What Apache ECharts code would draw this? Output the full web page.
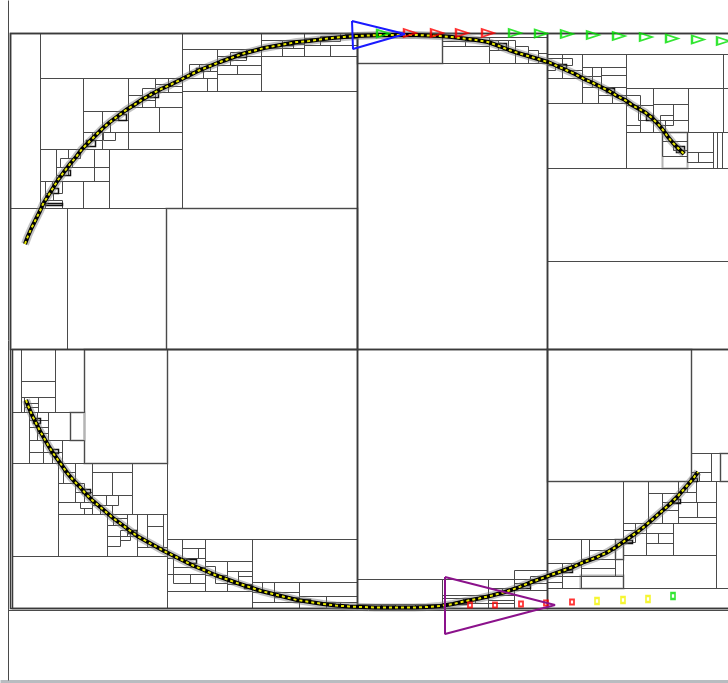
<!DOCTYPE html>
<html>
<head>
<meta charset="utf-8">
<script src="https://cdn.jsdelivr.net/npm/echarts@6/dist/echarts.min.js"></script>
<style>
  html, body { margin: 0; padding: 0; background: #fff; }
  #chart { width: 728px; height: 683px; }
</style>
</head>
<body>
<div id="chart"></div>
<script>
// cells are [x0, y0, x1, y1] in scene units (same scale as the picture)
const rootCells = [
  [10, 33, 740, 608],
  [10, 33, 357, 349], [357, 33, 547, 349], [547, 33, 740, 349],
  [12, 349, 357, 608], [357, 349, 547, 608], [547, 349, 740, 608]
]

const lightCells = [
  [166, 208, 357, 349], [84, 349, 167, 463], [70, 412, 84, 440],
  [357, 37, 442, 63], [547, 349, 691, 481], [720, 453, 740, 481],
  [615, 539, 623, 559], [580, 575, 623, 588], [662, 132, 687, 168]
]

const darkCells = [
  // top-left
  [10, 33, 357, 208], [10, 208, 67, 349], [67, 208, 166, 349],
  [10, 33, 40, 208], [40, 33, 182, 78], [40, 78, 83, 149],
  [83, 78, 128, 111], [83, 111, 128, 149], [128, 78, 182, 107],
  [128, 107, 182, 132], [128, 132, 182, 149],
  [83, 132, 102, 149], [102, 111, 128, 132], [102, 132, 128, 149],
  [103, 132, 115, 140], [110, 120, 128, 132], [92, 132, 102, 140],
  [128, 107, 159, 132],
  [128, 78, 155, 107], [155, 78, 182, 92], [155, 92, 182, 107],
  [128, 95, 142, 107], [142, 88, 155, 100], [155, 84, 168, 92],
  [168, 78, 182, 86], [142, 100, 155, 107],
  [40, 149, 56, 181], [56, 149, 94, 167], [94, 149, 109, 167],
  [56, 167, 94, 181], [94, 167, 109, 181], [40, 181, 83, 208],
  [83, 181, 109, 208], [109, 149, 182, 208],
  [56, 167, 68, 175], [60, 158, 72, 167], [68, 149, 80, 158],
  [40, 181, 45, 208], [45, 181, 52, 193], [52, 181, 62, 193],
  [45, 193, 53, 200], [45, 200, 62, 203], [45, 203, 62, 208],
  [182, 33, 357, 91], [182, 91, 357, 208],
  [182, 33, 261, 49], [182, 49, 217, 78], [182, 78, 207, 91],
  [207, 78, 217, 91], [189, 64, 217, 71], [199, 64, 210, 71],
  [189, 71, 203, 78], [203, 71, 217, 78],
  [217, 49, 261, 65], [217, 65, 237, 74], [237, 65, 261, 74],
  [217, 74, 261, 91], [217, 56, 230, 65], [230, 52, 246, 60],
  [246, 49, 261, 56],
  [261, 33, 304, 56], [261, 56, 357, 91], [261, 40, 282, 48],
  [282, 40, 304, 48], [261, 48, 282, 56], [282, 44, 293, 48],
  [293, 40, 304, 44],
  [304, 33, 357, 45], [304, 45, 330, 56], [330, 45, 357, 56],
  [304, 38, 320, 45], [320, 36, 340, 41], [340, 33, 357, 38],
  // top-middle
  [357, 33, 547, 63],
  [442, 37, 489, 46], [442, 46, 489, 63], [489, 37, 547, 63],
  [442, 37, 465, 41], [465, 37, 489, 41], [465, 41, 489, 46],
  [489, 40, 498, 50], [498, 40, 508, 50], [508, 40, 515, 50],
  [515, 46, 528, 53], [528, 50, 538, 57], [538, 53, 547, 63],
  [515, 53, 528, 63], [489, 50, 515, 63],
  // top-right
  [547, 33, 740, 54], [547, 54, 626, 103], [547, 103, 626, 168],
  [547, 168, 740, 261], [547, 261, 740, 349],
  [626, 54, 723, 88], [723, 54, 740, 88],
  [626, 88, 653, 132], [653, 88, 688, 132], [688, 88, 723, 132],
  [626, 132, 740, 168],
  [547, 54, 562, 78], [562, 54, 582, 70], [562, 70, 582, 78],
  [547, 78, 582, 103], [547, 58, 562, 65], [547, 65, 555, 70],
  [562, 58, 572, 65],
  [582, 54, 626, 67], [582, 67, 601, 87], [601, 67, 626, 75],
  [601, 75, 626, 87], [582, 87, 626, 103], [582, 67, 592, 76],
  [592, 76, 601, 87], [598, 87, 626, 95], [598, 95, 626, 103],
  [612, 95, 626, 103],
  [626, 95, 640, 105], [626, 105, 640, 125], [638, 105, 653, 120],
  [640, 120, 653, 132],
  [653, 104, 688, 120], [653, 120, 665, 132], [660, 115, 673, 125],
  [673, 104, 688, 120],
  [662, 132, 687, 141], [662, 141, 687, 156], [673, 141, 687, 150],
  [687, 132, 713, 152], [687, 152, 713, 162], [698, 152, 713, 162],
  [713, 132, 717, 168], [717, 132, 722, 168],
  // bottom-left
  [12, 349, 84, 412], [12, 349, 167, 463],
  [12, 349, 21, 412], [21, 349, 55, 381], [21, 381, 55, 397],
  [21, 397, 55, 412], [55, 349, 84, 412],
  [21, 397, 24, 412], [24, 397, 38, 403], [24, 403, 38, 407],
  [24, 407, 38, 412], [38, 397, 55, 412],
  [12, 412, 29, 463], [29, 412, 48, 440], [48, 412, 70, 440],
  [29, 440, 62, 463], [62, 440, 84, 463],
  [29, 412, 37, 420], [37, 412, 48, 420], [29, 420, 48, 427],
  [37, 427, 48, 433], [29, 427, 37, 440], [37, 433, 48, 440],
  [29, 440, 43, 452], [43, 440, 62, 452], [43, 452, 52, 463],
  [52, 452, 62, 463],
  [12, 463, 58, 556], [58, 463, 167, 514], [58, 514, 167, 556],
  [12, 556, 167, 608],
  [58, 463, 75, 483], [75, 463, 92, 502], [58, 483, 75, 502],
  [58, 502, 92, 514], [63, 463, 75, 472], [63, 472, 75, 483],
  [75, 483, 84, 492], [84, 492, 92, 502], [80, 502, 92, 508],
  [84, 508, 92, 514],
  [92, 463, 132, 472], [92, 472, 112, 495], [112, 472, 132, 495],
  [92, 495, 132, 514], [92, 495, 106, 505], [100, 505, 112, 514],
  [106, 495, 118, 505],
  [107, 514, 127, 525], [127, 514, 137, 536], [107, 525, 127, 536],
  [107, 536, 137, 556], [137, 514, 147, 547], [147, 514, 163, 526],
  [147, 526, 163, 547], [163, 514, 167, 547], [137, 547, 167, 556],
  [113, 518, 127, 525], [107, 536, 120, 546], [120, 530, 130, 540],
  [167, 349, 357, 539], [167, 539, 252, 608], [252, 539, 357, 608],
  [167, 539, 205, 591], [205, 539, 252, 591], [167, 591, 252, 608],
  [167, 539, 182, 558], [182, 539, 205, 548], [182, 548, 198, 558],
  [198, 548, 205, 558],
  [167, 558, 173, 574], [173, 558, 205, 567], [173, 567, 205, 574],
  [167, 574, 205, 591], [173, 574, 190, 583], [190, 574, 205, 583],
  [205, 561, 227, 591], [227, 561, 252, 571], [227, 571, 238, 584],
  [238, 571, 252, 576], [238, 576, 252, 584], [227, 584, 252, 591],
  [205, 566, 215, 575], [215, 575, 227, 583],
  [252, 582, 299, 608], [299, 582, 357, 608],
  [252, 582, 262, 592], [262, 582, 274, 592], [274, 582, 299, 592],
  [252, 592, 274, 602], [274, 592, 299, 597], [274, 597, 299, 602],
  [252, 602, 299, 608],
  [299, 582, 357, 596], [299, 596, 326, 602], [326, 596, 357, 602],
  [299, 602, 357, 608], [326, 602, 340, 608], [340, 602, 357, 605],
  // bottom-middle
  [357, 579, 442, 608], [442, 579, 488, 608], [488, 579, 514, 608],
  [514, 579, 547, 608],
  [357, 604, 381, 608], [381, 604, 395, 608], [395, 604, 415, 608],
  [415, 604, 442, 608],
  [442, 579, 488, 595], [442, 595, 488, 598], [442, 598, 463, 603],
  [463, 598, 475, 603], [475, 598, 488, 603], [442, 603, 488, 608],
  [488, 579, 514, 588], [488, 588, 502, 595], [502, 588, 514, 595],
  [488, 595, 514, 600], [488, 600, 514, 603], [488, 603, 514, 608],
  [514, 579, 530, 590], [530, 579, 547, 590], [514, 590, 547, 608],
  [514, 583, 530, 590], [530, 576, 547, 583], [514, 570, 547, 579],
  // bottom-right
  [691, 349, 740, 453], [691, 453, 711, 481], [711, 453, 720, 481],
  [691, 453, 711, 472], [691, 472, 699, 481], [699, 472, 711, 481],
  [547, 481, 740, 588], [547, 588, 740, 608],
  [547, 481, 623, 539], [547, 539, 581, 588], [581, 539, 623, 588],
  [623, 481, 716, 555], [716, 481, 740, 588], [623, 555, 716, 588],
  [547, 539, 581, 563], [547, 563, 562, 588], [562, 563, 581, 576],
  [562, 576, 581, 588], [547, 582, 562, 588], [547, 563, 562, 576],
  [562, 563, 571, 570],
  [581, 539, 589, 559], [589, 539, 615, 550], [589, 550, 615, 559],
  [581, 559, 615, 568], [581, 568, 615, 576], [615, 559, 623, 576],
  [623, 481, 648, 523], [648, 481, 678, 493], [648, 493, 662, 523],
  [662, 493, 678, 502], [662, 502, 678, 510], [662, 510, 678, 523],
  [678, 481, 716, 502], [678, 502, 697, 517], [697, 502, 716, 517],
  [678, 517, 716, 523], [678, 481, 687, 492], [687, 481, 696, 492],
  [678, 492, 696, 502],
  [623, 523, 646, 555], [646, 523, 673, 533], [646, 533, 658, 543],
  [658, 533, 673, 543], [646, 543, 673, 555], [673, 523, 716, 555],
  [623, 530, 635, 542], [635, 523, 646, 533]
]

// very small cells hugging the curve (drawn almost black)
const tinyCells = [
  [45, 203, 62, 205], [52, 188, 58, 193], [63, 170, 70, 175],
  [86, 140, 95, 146], [118, 114, 126, 120], [150, 92, 158, 97],
  [196, 68, 203, 71], [238, 53, 246, 57], [284, 42, 293, 45],
  [345, 34, 357, 37], [498, 43, 506, 47], [558, 64, 566, 68],
  [606, 88, 614, 92], [646, 115, 653, 120], [676, 146, 684, 152],
  [33, 418, 40, 423], [50, 449, 58, 453], [82, 489, 90, 493],
  [128, 530, 136, 533], [186, 559, 196, 563], [244, 585, 252, 588],
  [300, 599, 310, 601], [380, 606, 395, 608], [455, 602, 466, 604],
  [520, 585, 530, 588], [563, 569, 572, 572], [624, 540, 632, 543],
  [672, 499, 680, 503], [690, 478, 697, 481]
]

const frameLines = [[8, 0, 8, 680], [8, 610, 728, 610]]
const baseLines = [[0, 681, 728, 681]]

// points of the two arcs
const upperArc = [
  [25, 244], [28, 236], [32, 227], [36, 219], [40, 211], [43, 204], [48, 196],
  [53, 188], [58, 180], [64, 172], [70, 164], [76, 157], [82, 149], [89, 142],
  [96, 135], [103, 128], [110, 122], [118, 116], [126, 110], [134, 105],
  [143, 99], [152, 94], [161, 89], [170, 85], [180, 80], [190, 75], [200, 70],
  [210, 66], [220, 62], [231, 58], [242, 54], [253, 51], [264, 48], [275, 46],
  [286, 44], [297, 42], [309, 41], [320, 39.5], [332, 38], [344, 37], [356, 36],
  [368, 35.5], [380, 35], [392, 35], [404, 35], [416, 35], [428, 35.5],
  [440, 36], [452, 37], [464, 38.5], [476, 40], [488, 42], [499, 46], [509, 50],
  [518, 53], [528, 56], [538, 59], [548, 62], [557, 66], [566, 70], [575, 74],
  [584, 79], [593, 83], [601, 87], [609, 91], [617, 96], [625, 100], [632, 105],
  [639, 109], [646, 113], [652, 118], [658, 124], [663, 130], [668, 137],
  [673, 143], [678, 148], [684, 154]
]
const lowerArc = [
  [26, 400], [29, 408], [32, 415], [36, 423], [40, 431], [44, 438], [48, 445],
  [53, 453], [58, 460], [63, 467], [68, 474], [74, 481], [80, 487], [86, 494],
  [92, 500], [99, 506], [106, 512], [113, 518], [121, 524], [129, 530],
  [137, 536], [146, 541], [155, 546], [164, 551], [174, 556], [184, 561],
  [194, 566], [204, 570], [215, 575], [226, 579], [237, 583], [249, 587],
  [261, 591], [273, 594], [285, 597], [297, 600], [310, 602], [323, 604],
  [336, 605.5], [349, 606.5], [362, 607], [375, 607.5], [388, 607.5],
  [401, 607.5], [414, 607.5], [427, 607], [440, 606], [453, 604], [466, 601],
  [479, 598.5], [492, 595.5], [505, 592], [517, 588], [529, 583], [540, 579],
  [551, 575], [562, 571], [573, 567], [584, 562], [595, 558], [606, 553],
  [616, 547], [626, 540], [636, 533], [645, 526], [654, 518], [662, 511],
  [670, 504], [678, 496], [685, 488], [692, 480], [698, 472]
]

const blueTriangle = [[352, 21], [353, 49], [405, 34], [352, 21]]
const purpleTriangle = [[445, 577], [445, 634], [555, 605], [445, 577]]

const greenFlags = [[383, 33.5], [515, 33], [541, 33.5], [567, 34], [593, 35],
  [619, 36], [646, 37], [672, 38.5], [698, 39.5], [723, 41]]
const redFlags = [[410, 33], [437, 33], [462, 33], [488, 33]]

const redSquares = [[470, 605], [495, 605], [521, 604], [546, 603], [572, 602]]
const yellowSquares = [[597, 601], [623, 600], [648, 599]]
const greenSquares = [[673, 596]]

const chart = echarts.init(document.getElementById('chart'))

const crisp = v => Math.round(v) + 0.5

function cellSeries(data, color, width, z) {
  return {
    type: 'custom',
    data: data,
    silent: true,
    clip: false,
    z: z,
    encode: { x: [0, 2], y: [1, 3] },
    renderItem: (params, api) => {
      const a = api.coord([api.value(0), api.value(1)])
      const b = api.coord([api.value(2), api.value(3)])
      const x0 = crisp(Math.min(a[0], b[0]))
      const y0 = crisp(Math.min(a[1], b[1]))
      const x1 = crisp(Math.max(a[0], b[0]))
      const y1 = crisp(Math.max(a[1], b[1]))
      return {
        type: 'rect',
        shape: { x: x0, y: y0, width: x1 - x0, height: y1 - y0 },
        style: { fill: null, stroke: color, lineWidth: width }
      }
    }
  }
}

function segSeries(data, color, width, z) {
  return {
    type: 'custom',
    data: data,
    silent: true,
    clip: false,
    z: z,
    encode: { x: [0, 2], y: [1, 3] },
    renderItem: (params, api) => {
      const a = api.coord([api.value(0), api.value(1)])
      const b = api.coord([api.value(2), api.value(3)])
      return {
        type: 'line',
        shape: { x1: crisp(a[0]), y1: crisp(a[1]), x2: crisp(b[0]), y2: crisp(b[1]) },
        style: { stroke: color, lineWidth: width }
      }
    }
  }
}

// 轨迹：灰色外晕 + 黑色粗线 + 黄色点
function arcSeries(data) {
  return [
    {
      type: 'line', data: data, z: 4, showSymbol: false, silent: true,
      lineStyle: { color: 'rgba(120,120,120,0.45)', width: 8 }
    },
    {
      type: 'line', data: data, z: 5, showSymbol: false, silent: true,
      lineStyle: { color: '#000', width: 4 }
    },
    {
      type: 'line', data: data, z: 6, showSymbol: false, silent: true,
      lineStyle: { color: '#e8e800', width: 2, type: [3, 3] }
    }
  ]
}

function markerSeries(data, symbol, size, color, rotate) {
  return {
    type: 'scatter', data: data, z: 8, silent: true,
    symbol: symbol, symbolSize: size, symbolRotate: rotate || 0,
    itemStyle: { color: 'rgba(0,0,0,0)', borderColor: color, borderWidth: 2 }
  }
}

const option = {
  backgroundColor: '#fff',
  animation: false,
  grid: { left: 0, right: 0, top: 0, bottom: 0 },
  xAxis: { type: 'value', min: 0, max: 728, show: false },
  yAxis: { type: 'value', min: 0, max: 683, inverse: true, show: false },
  series: [
    segSeries(baseLines, '#b8bcc0', 3, 1),
    cellSeries(lightCells, '#b4b4b4', 2, 1),
    cellSeries(darkCells, '#4a4a4a', 1, 2),
    cellSeries(rootCells, '#3a3a3a', 1.5, 3),
    segSeries(frameLines, '#4a4a4a', 1, 3),
    cellSeries(tinyCells, '#111', 1.5, 4),
    ...arcSeries(upperArc),
    ...arcSeries(lowerArc),
    markerSeries(greenFlags, 'triangle', [8, 12], '#00e000', -90),
    markerSeries(redFlags, 'triangle', [8, 12], '#ff0000', -90),
    markerSeries(redSquares, 'rect', [4, 5], '#ff0000'),
    markerSeries(yellowSquares, 'rect', [4, 6], '#f4f400'),
    markerSeries(greenSquares, 'rect', [4, 6], '#00e000'),
    {
      type: 'line', data: blueTriangle, z: 9, showSymbol: false, silent: true,
      lineStyle: { color: '#1a1aff', width: 2 }
    },
    {
      type: 'line', data: purpleTriangle, z: 9, showSymbol: false, silent: true,
      lineStyle: { color: '#8b128b', width: 2 }
    }
  ]
}

chart.setOption(option)
</script>
</body>
</html>
